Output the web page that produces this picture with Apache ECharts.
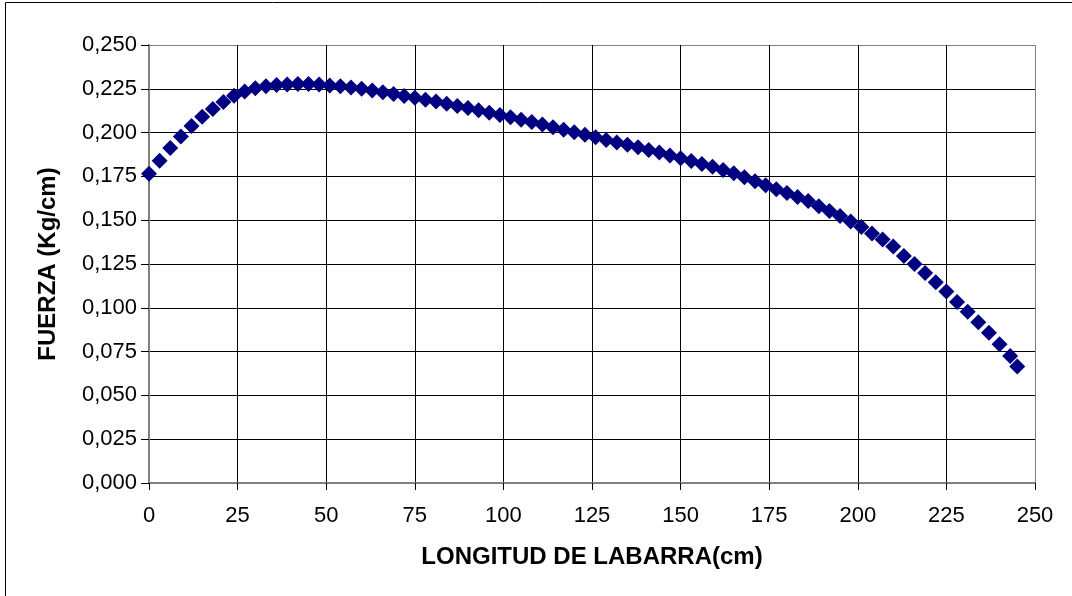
<!DOCTYPE html>
<html>
<head>
<meta charset="utf-8">
<script src="https://cdn.jsdelivr.net/npm/echarts@6/dist/echarts.min.js"></script>
<style>
  html, body { margin: 0; padding: 0; background: #fff; }
  #chart { width: 1072px; height: 596px; }
</style>
</head>
<body>
<div id="chart"></div>
<script>
// longitud de la barra (cm)
const longitud = [
  0, 3, 6, 9, 12, 15, 18, 21, 24, 27, 30, 33, 36, 39, 42, 45, 48,
  51, 54, 57, 60, 63, 66, 69, 72, 75, 78, 81, 84, 87, 90, 93, 96, 99,
  102, 105, 108, 111, 114, 117, 120, 123, 126, 129, 132, 135, 138, 141, 144, 147,
  150, 153, 156, 159, 162, 165, 168, 171, 174, 177, 180, 183, 186, 189, 192, 195, 198,
  201, 204, 207, 210, 213, 216, 219, 222, 225, 228, 231, 234, 237, 240, 243, 245
];
// fuerza (Kg/cm)
const fuerza = [
  0.1765, 0.1840, 0.1912, 0.1978, 0.2038, 0.2090, 0.2135, 0.2175, 0.2210, 0.2235, 0.2253, 0.2264, 0.2271, 0.2275, 0.2277, 0.2277, 0.2275,
  0.2269, 0.2264, 0.2258, 0.2250, 0.2240, 0.2230, 0.2220, 0.2209, 0.2199, 0.2188, 0.2177, 0.2164, 0.2152, 0.2140, 0.2127, 0.2114, 0.2101,
  0.2088, 0.2074, 0.2060, 0.2046, 0.2031, 0.2016, 0.2002, 0.1988, 0.1973, 0.1958, 0.1944, 0.1930, 0.1916, 0.1901, 0.1886, 0.1870,
  0.1854, 0.1838, 0.1821, 0.1805, 0.1787, 0.1768, 0.1745, 0.1722, 0.1700, 0.1676, 0.1655, 0.1632, 0.1609, 0.1580, 0.1553, 0.1524, 0.1492,
  0.1461, 0.1424, 0.1390, 0.1350, 0.1295, 0.1250, 0.1198, 0.1146, 0.1093, 0.1033, 0.0977, 0.0918, 0.0857, 0.0792, 0.0725, 0.0665
];

const font = '"Liberation Sans", Arial, sans-serif';
// last grid line of each axis is the grey plot border
const yLineColors = ['#000', '#000', '#000', '#000', '#000', '#000', '#000', '#000', '#000', '#000', '#808080'];
const xLineColors = ['#000', '#000', '#000', '#000', '#000', '#000', '#000', '#000', '#000', '#000', '#808080'];

const chart = echarts.init(document.getElementById('chart'), null, { renderer: 'canvas' });
chart.setOption({
  animation: false,
  backgroundColor: '#fff',
  graphic: [{
    type: 'rect',
    shape: { x: 5.5, y: 2.5, width: 1200, height: 800 },
    style: { fill: 'none', stroke: '#000', lineWidth: 1 },
    silent: true
  }],
  grid: { left: 149, top: 45, width: 886, height: 438 },
  xAxis: {
    type: 'value',
    min: 0, max: 250, interval: 25,
    name: 'LONGITUD DE LABARRA(cm)',
    nameLocation: 'middle',
    nameGap: 62,
    nameTextStyle: { fontFamily: font, fontSize: 24, fontWeight: 'bold', color: '#000' },
    axisLine: { show: true, lineStyle: { color: '#808080', width: 2 } },
    axisTick: { show: true, length: 7, lineStyle: { color: '#000' } },
    axisLabel: { fontFamily: font, fontSize: 22, color: '#000', margin: 22 },
    splitLine: { show: true, lineStyle: { color: xLineColors, width: 1 } }
  },
  yAxis: {
    type: 'value',
    min: 0, max: 0.25, interval: 0.025,
    name: 'FUERZA (Kg/cm)',
    nameLocation: 'middle',
    nameGap: 89,
    nameTextStyle: { fontFamily: font, fontSize: 24, fontWeight: 'bold', color: '#000' },
    axisLine: { show: true, lineStyle: { color: '#808080', width: 2 } },
    axisTick: { show: true, length: 8, lineStyle: { color: '#000' } },
    axisLabel: {
      fontFamily: font, fontSize: 22, color: '#000', margin: 12,
      formatter: v => v.toFixed(3).replace('.', ',')
    },
    splitLine: { show: true, lineStyle: { color: yLineColors, width: 1 } }
  },
  series: [{
    type: 'scatter',
    symbol: 'diamond',
    symbolSize: 16,
    itemStyle: { color: '#000080', opacity: 1 },
    data: longitud.map((x, i) => [x, fuerza[i]])
  }]
});
</script>
</body>
</html>
